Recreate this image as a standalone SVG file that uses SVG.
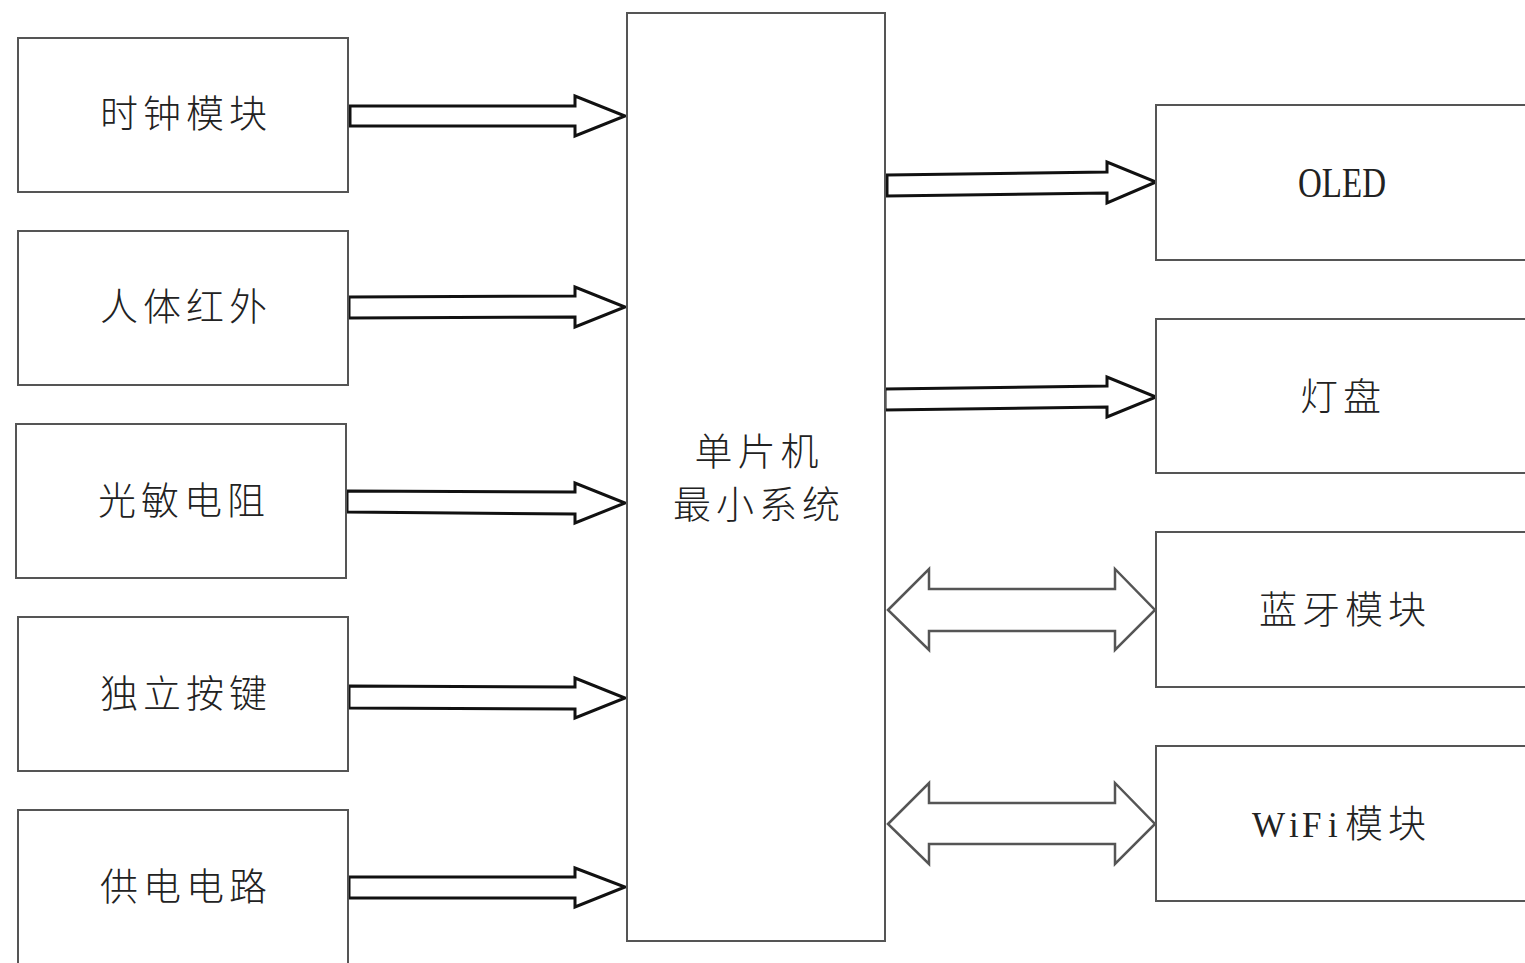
<svg xmlns="http://www.w3.org/2000/svg" width="1525" height="963" viewBox="0 0 1525 963">
<style>
.box{fill:#fff;stroke:#555;stroke-width:2}
.cn{font-family:"Noto Sans CJK SC","Noto Sans CJK JP",sans-serif;font-size:38px;font-weight:300;fill:#222;text-anchor:middle;letter-spacing:5px}
.en{font-family:"Liberation Serif",serif;fill:#222}
.arr{fill:#fff;stroke:#111;stroke-width:3;stroke-linejoin:miter}
.darr{fill:#fff;stroke:#555;stroke-width:2.5;stroke-linejoin:miter}
</style>
<rect width="1525" height="963" fill="#fff"/>
<g id="connectors">
<polygon class="arr" points="350,106 575,106 575,96 625,116 575,136 575,126 350,126"/>
<polygon class="arr" points="349,297 575,296 575,287 625,307 575,327 575,317 349,318"/>
<polygon class="arr" points="347,491 575,492 575,483 625,503 575,523 575,514 347,512"/>
<polygon class="arr" points="349,686 575,687 575,678 625,698 575,718 575,709 349,708"/>
<polygon class="arr" points="349,877 575,877 575,868 625,887 575,907 575,898 349,898"/>
<polygon class="arr" points="887,175 1107,172 1107,162 1156,182 1107,203 1107,193 887,196"/>
<polygon class="arr" points="885,389 1107,386 1107,377 1156,397 1107,417 1107,407 885,410"/>
<polygon class="darr" points="888,610 929,569 929,589 1115,589 1115,569 1155,610 1115,650 1115,631 929,631 929,650"/>
<polygon class="darr" points="888,824 929,783 929,803 1115,803 1115,783 1155,824 1115,864 1115,844 929,844 929,864"/>
</g>
<g id="n-clock"><rect class="box" x="18" y="38" width="330" height="154"/><text class="cn" x="186" y="127">时钟模块</text></g>
<g id="n-ir"><rect class="box" x="18" y="231" width="330" height="154"/><text class="cn" x="186" y="320">人体红外</text></g>
<g id="n-ldr"><rect class="box" x="16" y="424" width="330" height="154"/><text class="cn" x="184" y="514">光敏电阻</text></g>
<g id="n-key"><rect class="box" x="18" y="617" width="330" height="154"/><text class="cn" x="186" y="707">独立按键</text></g>
<g id="n-power"><rect class="box" x="18" y="810" width="330" height="170"/><text class="cn" x="186" y="900">供电电路</text></g>
<g id="n-mcu"><rect class="box" x="627" y="13" width="258" height="928"/><text class="cn" x="759" y="465">单片机</text><text class="cn" x="759" y="518">最小系统</text></g>
<g id="n-oled"><rect class="box" x="1156" y="105" width="380" height="155"/><text class="en" x="1298" y="197" font-size="43" textLength="88" lengthAdjust="spacingAndGlyphs">OLED</text></g>
<g id="n-lamp"><rect class="box" x="1156" y="319" width="380" height="154"/><text class="cn" x="1343" y="410">灯盘</text></g>
<g id="n-bt"><rect class="box" x="1156" y="532" width="380" height="155"/><text class="cn" x="1345" y="623">蓝牙模块</text></g>
<g id="n-wifi"><rect class="box" x="1156" y="746" width="380" height="155"/><text class="en" x="1252 1289 1302 1328" y="837" font-size="35">WiFi</text><text class="cn" x="1388" y="837" letter-spacing="4">模块</text></g>
</svg>
